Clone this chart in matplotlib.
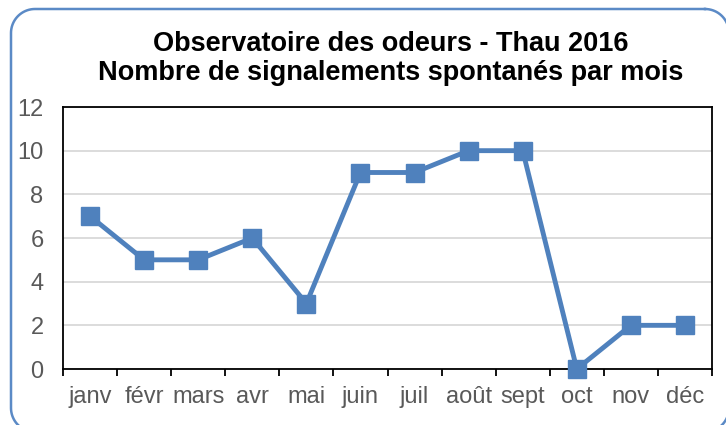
import numpy as np
import matplotlib.pyplot as plt
from matplotlib.lines import Line2D

mois = ['janv', 'févr', 'mars', 'avr', 'mai', 'juin', 'juil', 'août', 'sept', 'oct', 'nov', 'déc']
signalements = [7, 5, 5, 6, 3, 9, 9, 10, 10, 0, 2, 2]
y_ticks = [0, 2, 4, 6, 8, 10, 12]

W, H = 726, 425
bleu = '#4F81BD'
gris = '#595959'

plt.rcParams['font.family'] = ['Liberation Sans', 'DejaVu Sans']

fig = plt.figure(figsize=(W / 100, H / 100), dpi=100)

# cadre arrondi autour du graphique (coordonnées en pixels, origine en haut à gauche)
x0, y0, x1, y1, r = 11, 9, 729, 432, 24
px, py = [], []
coins = [(x1 - r, y0 + r, -90, 0), (x1 - r, y1 - r, 0, 90),
         (x0 + r, y1 - r, 90, 180), (x0 + r, y0 + r, 180, 270)]
for cx, cy, a0, a1 in coins:
    t = np.radians(np.linspace(a0, a1, 20))
    px.extend(cx + r * np.cos(t))
    py.extend(cy + r * np.sin(t))
px.append(px[0])
py.append(py[0])
fig.add_artist(Line2D(np.array(px) / W, 1 - np.array(py) / H, transform=fig.transFigure,
                      color='#5B8AC6', linewidth=1.8))

ax = fig.add_axes([63 / W, 1 - 369 / H, (712 - 63) / W, (369 - 107) / H])

x = list(range(len(mois)))
ax.plot(x, signalements, color=bleu, linewidth=3.5, marker='s', markersize=13.5,
        markerfacecolor=bleu, markeredgecolor=bleu, clip_on=False, zorder=3)

ax.set_xlim(-0.5, len(mois) - 0.5)
ax.set_ylim(0, 12)
ax.set_yticks(y_ticks)
ax.yaxis.grid(True, color='#D9D9D9', linewidth=1.3)
ax.set_axisbelow(True)

ax.set_xticks(x)
ax.set_xticklabels(mois)
ax.set_xticks([i - 0.5 for i in range(len(mois) + 1)], minor=True)
ax.tick_params(axis='x', which='major', length=0, pad=12, labelsize=17, labelcolor=gris)
ax.tick_params(axis='x', which='minor', length=5, width=1.3, color='black', direction='out')
ax.tick_params(axis='y', length=0, pad=14, labelsize=17, labelcolor=gris)

for s in ax.spines.values():
    s.set_color('black')
    s.set_linewidth(1.3)

fig.text(391 / W, 1 - 44 / H, 'Observatoire des odeurs - Thau 2016',
         ha='center', va='center', fontsize=19.5, fontweight='bold', color='black')
fig.text(391 / W, 1 - 73 / H, 'Nombre de signalements spontanés par mois',
         ha='center', va='center', fontsize=19.5, fontweight='bold', color='black')

fig.savefig('out.png', dpi=100)
